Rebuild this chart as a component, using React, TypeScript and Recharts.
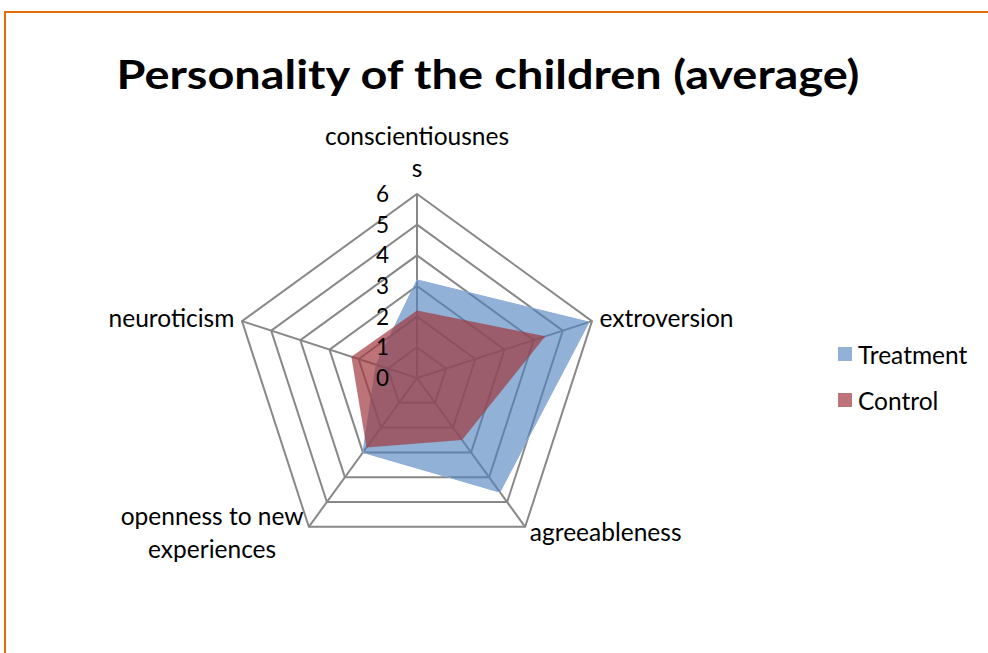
import React from 'react';
import { RadarChart, Radar, PolarGrid, PolarAngleAxis, PolarRadiusAxis, Legend } from 'recharts';

const categories = ['conscientiousness', 'extroversion', 'agreeableness', 'openness to new experiences', 'neuroticism'];
const categoryLines = [['conscientiousnes', 's'], ['extroversion'], ['agreeableness'], ['openness to new', 'experiences'], ['neuroticism']];
const treatment = [3.2, 5.9, 4.6, 3.0, 1.4];
const control = [2.2, 4.4, 2.5, 2.8, 2.25];
const radiusTicks = [0, 1, 2, 3, 4, 5, 6];
const seriesNames = ['Treatment', 'Control'];
const seriesColors = ['#4f81bd', '#a0393f'];
const title = 'Personality of the children (average)';

const data = categories.map((c, i) => ({ category: c, Treatment: treatment[i], Control: control[i] }));

const FONT = 'Lato, "Open Sans", sans-serif';
const LABEL_SIZE = 24.5;

// per-label placement tweaks relative to the library's tick point
const labelLayout: Record<number, { dx: number; dy: number; anchor: string; lh: number }> = {
  0: { dx: 0, dy: -41, anchor: 'middle', lh: 32 },
  1: { dx: 0, dy: 8.5, anchor: 'start', lh: 32 },
  2: { dx: 0, dy: 7.5, anchor: 'start', lh: 32 },
  3: { dx: -92, dy: -8.5, anchor: 'middle', lh: 33 },
  4: { dx: 0, dy: 8, anchor: 'end', lh: 32 },
};

const AngleTick = (props: any) => {
  const { x, y, payload } = props;
  const idx = categories.indexOf(payload.value);
  const lines = categoryLines[idx] || [payload.value];
  const l = labelLayout[idx];
  return (
    <text x={x + l.dx} y={y + l.dy} textAnchor={l.anchor} fill="#000" fontSize={LABEL_SIZE} fontFamily={FONT}>
      {lines.map((ln, i) => (
        <tspan key={i} x={x + l.dx} dy={i === 0 ? 0 : l.lh}>{ln}</tspan>
      ))}
    </text>
  );
};

const RadiusTick = (props: any) => {
  const { x, y, payload } = props;
  return (
    <text x={x - 28} y={y + 8} textAnchor="end" fill="#000" fontSize={22.5} fontFamily={FONT}>
      {payload.value}
    </text>
  );
};

const LegendContent = () => {
  return (
    <div style={{ fontFamily: FONT, fontSize: 24.5 }}>
      {seriesNames.map((name, i) => (
        <div key={i} style={{ display: 'flex', alignItems: 'center', height: 46 }}>
          <span style={{ display: 'inline-block', width: 14, height: 14, background: seriesColors[i], opacity: i === 0 ? 0.62 : 0.7, marginRight: 6 }} />
          <span style={{ color: '#000' }}>{name}</span>
        </div>
      ))}
    </div>
  );
};

export default function App() {
  return (
    <div style={{ position: 'absolute', left: 0, top: 0, width: 988, height: 653, background: '#fff', overflow: 'hidden' }}>
      <div style={{ position: 'absolute', left: 4, top: 11, width: 1100, height: 800, borderTop: '2px solid #e46c0a', borderLeft: '2px solid #e46c0a' }} />
      <svg width={988} height={120} style={{ position: 'absolute', left: 0, top: 0 }}>
        <text x={488} y={89} textAnchor="middle" fontSize={41} fontWeight="bold" fontFamily={FONT} textLength={743} lengthAdjust="spacingAndGlyphs" fill="#000">
          {title}
        </text>
      </svg>
      <div style={{ position: 'absolute', left: 0, top: 0 }}>
        <RadarChart width={988} height={653} cx={417} cy={378} outerRadius={184} data={data} margin={{ top: 0, right: 0, bottom: 0, left: 0 }}>
          <PolarGrid gridType="polygon" stroke="#888888" strokeWidth={2} />
          <PolarAngleAxis dataKey="category" tick={<AngleTick />} tickLine={false} axisLine={false} />
          <PolarRadiusAxis angle={90} domain={[0, 6]} ticks={radiusTicks} tickCount={7} tick={<RadiusTick />} axisLine={false} tickLine={false} />
          <Radar name={seriesNames[0]} dataKey="Treatment" stroke="#8eaedc" strokeWidth={1} fill={seriesColors[0]} fillOpacity={0.62} isAnimationActive={false} />
          <Radar name={seriesNames[1]} dataKey="Control" stroke="#a8555d" strokeWidth={0} fill={seriesColors[1]} fillOpacity={0.7} isAnimationActive={false} />
          <Legend layout="vertical" content={<LegendContent />} wrapperStyle={{ position: 'absolute', left: 838, top: 331, width: 150 }} />
        </RadarChart>
      </div>
    </div>
  );
}
